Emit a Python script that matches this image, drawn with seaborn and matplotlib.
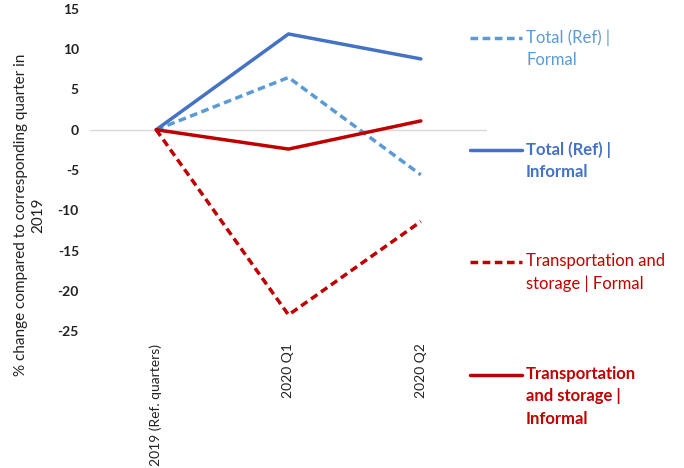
import matplotlib
matplotlib.use("Agg")
import matplotlib.pyplot as plt
from matplotlib.lines import Line2D
import seaborn as sns
import pandas as pd

categories = ["2019 (Ref. quarters)", "2020 Q1", "2020 Q2"]
total_formal = [0, 6.5, -5.6]
total_informal = [0, 11.9, 8.8]
transport_formal = [0, -23.0, -11.4]
transport_informal = [0, -2.4, 1.1]
series_names = ["Total (Ref) |\nFormal", "Total (Ref) |\nInformal",
                "Transportation and\nstorage | Formal",
                "Transportation\nand storage |\nInformal"]
yticks = [15, 10, 5, 0, -5, -10, -15, -20, -25]

sns.set_theme(style="white")
plt.rcParams['font.family'] = ['Lato', 'DejaVu Sans']

W, H = 684, 468
fig = plt.figure(figsize=(W/100, H/100), dpi=100)
ax = fig.add_axes([90/W, 1-331/H, 397/W, 322/H])

styles = [("#5B9BD5", (0, (2.2, 1.3)), "normal"),
          ("#4472C4", "-", "bold"),
          ("#C00000", (0, (2.2, 1.3)), "normal"),
          ("#C00000", "-", "bold")]
data = [total_formal, total_informal, transport_formal, transport_informal]

ax.axhline(0, color="#D9D9D9", lw=1, zorder=0)
for vals, name, (c, ls, fw) in zip(data, series_names, styles):
    df = pd.DataFrame({"x": range(len(categories)), "y": vals})
    sns.lineplot(data=df, x="x", y="y", ax=ax, color=c, linestyle=ls, lw=2.5)

ax.set_xlim(-0.5, 2.5)
ax.set_ylim(-25, 15)
ax.set_yticks(yticks)
ax.set_yticklabels([str(t) for t in yticks], fontweight="bold", fontsize=10, color="#222222")
ax.set_xticks(range(len(categories)))
ax.set_xticklabels(categories, rotation=90, fontsize=10, color="#222222", va="top")
ax.tick_params(axis="x", pad=9, length=0)
ax.tick_params(axis="y", pad=8, length=0)
for s in ax.spines.values():
    s.set_visible(False)
ax.set_xlabel("")
ax.set_ylabel("% change compared to corresponding quarter in\n2019", fontsize=11,
              color="#222222", linespacing=1.3)
ax.yaxis.set_label_coords(-0.113, 0.36)

# legend (drawn to the right, one entry per series)
legend_rows = [38, 150, 262, 375]
for yrow, name, (c, ls, fw) in zip(legend_rows, series_names, styles):
    fig.add_artist(Line2D([470/W, 522/W], [1-yrow/H, 1-yrow/H], color=c,
                          linestyle=ls, lw=2.5, transform=fig.transFigure))
    fig.text(526/W, 1-(yrow-9)/H, name, color=c, fontweight=fw, fontsize=12,
             ha="left", va="top", linespacing=1.5)

fig.savefig("out.png", dpi=100)
